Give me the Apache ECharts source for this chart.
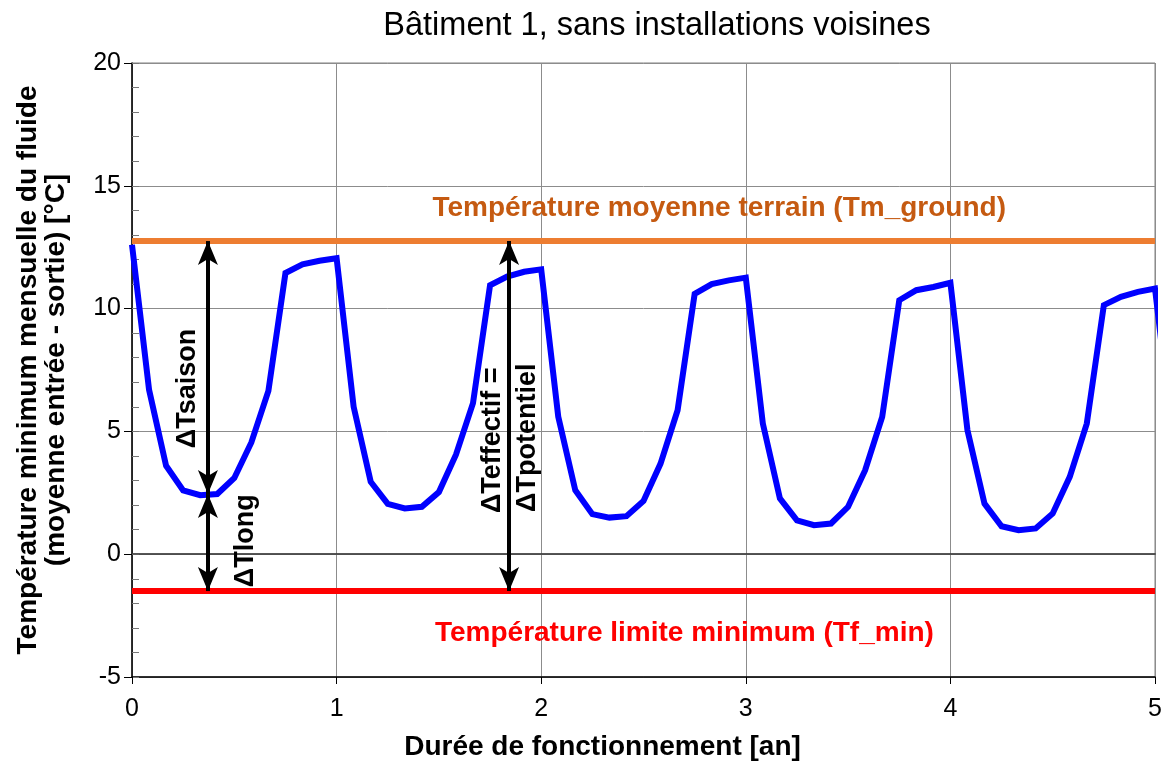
<!DOCTYPE html>
<html><head><meta charset="utf-8">
<script src="https://cdn.jsdelivr.net/npm/echarts@6/dist/echarts.min.js"></script>
<style>html,body{margin:0;padding:0;background:#fff}#c{width:1165px;height:767px}</style>
</head><body><div id="c"></div>
<script>
const titleText = 'Bâtiment 1, sans installations voisines';
const xName = 'Durée de fonctionnement [an]';
const yName = 'Température minimum mensuelle du fluide\n(moyenne entrée - sortie) [°C]';
const xTicks = [0, 1, 2, 3, 4, 5];
const yTicks = [-5, 0, 5, 10, 15, 20];
// monthly minimum fluide temperature, one value per month (0..61)
const fluidTemp = [
  12.6, 6.7, 3.6, 2.6, 2.4, 2.45, 3.1, 4.55, 6.65, 11.45, 11.8, 11.95,
  12.05, 6.0, 2.95, 2.05, 1.86, 1.93, 2.53, 4.05, 6.15, 10.95, 11.3, 11.5,
  11.6, 5.6, 2.6, 1.63, 1.49, 1.55, 2.17, 3.69, 5.86, 10.6, 11.0, 11.15,
  11.26, 5.32, 2.27, 1.38, 1.18, 1.25, 1.93, 3.42, 5.59, 10.34, 10.75, 10.88,
  11.05, 5.05, 2.06, 1.14, 0.98, 1.05, 1.66, 3.15, 5.32, 10.14, 10.48, 10.68,
  10.82, 4.9
];
const monthsPerYear = 12;
const tmGround = 12.75;
const tfMin = -1.5;
const seasonMin = 2.45;
const arrowSaisonX = 0.371;
const arrowEffX = 1.843;
const txtGround = 'Température moyenne terrain (Tm_ground)';
const txtMin = 'Température limite minimum (Tf_min)';
const txtSaison = 'ΔTsaison';
const txtLong = 'ΔTlong';
const txtEff = 'ΔTeffectif =';
const txtPot = 'ΔTpotentiel';

const FONT = '"Liberation Sans", Arial, sans-serif';
const xMin = xTicks[0], xMax = xTicks[xTicks.length - 1];
const yMin = yTicks[0], yMax = yTicks[yTicks.length - 1];

const curve = fluidTemp.map((v, i) => [i / monthsPerYear, v]);

function textPoint(x, y, text, color, rotate, size) {
  return {
    value: [x, y],
    label: {
      show: true, position: 'inside', formatter: text, rotate: rotate || 0,
      color: color, fontFamily: FONT, fontWeight: 'bold', fontSize: size || 28, opacity: 1
    }
  };
}

const arrowStyle = { color: '#000', width: 4, type: 'solid' };

const chart = echarts.init(document.getElementById('c'), null, { renderer: 'canvas' });
chart.setOption({
  animation: false,
  backgroundColor: '#fff',
  title: {
    text: titleText, left: 652, top: 5, textAlign: 'center',
    textStyle: { fontFamily: FONT, fontWeight: 'normal', fontSize: 32.5, color: '#000' }
  },
  grid: { left: 132, right: 10, top: 63, bottom: 90, show: true, borderColor: '#808080', borderWidth: 1 },
  xAxis: [{
    type: 'value', min: xMin, max: xMax, interval: 1,
    name: xName, nameLocation: 'middle', nameGap: 56,
    nameTextStyle: { fontFamily: FONT, fontWeight: 'bold', fontSize: 28, color: '#000', padding: [0, 82, 0, 0] },
    axisLine: { show: true, onZero: false, lineStyle: { color: '#000', width: 1.5 } },
    axisTick: { show: true, length: 7, lineStyle: { color: '#000' } },
    axisLabel: { fontFamily: FONT, fontSize: 25, color: '#000', margin: 20 },
    splitLine: { show: true, lineStyle: { color: '#8c8c8c', width: 1 } }
  }, {
    type: 'value', min: xMin, max: xMax, position: 'top',
    axisLine: { show: true, lineStyle: { color: '#222', width: 1.5 } },
    axisTick: { show: false }, axisLabel: { show: false }, splitLine: { show: false }
  }],
  yAxis: [{
    type: 'value', min: yMin, max: yMax, interval: 5,
    name: yName, nameLocation: 'middle', nameGap: 62, nameRotate: 90,
    nameTextStyle: { fontFamily: FONT, fontWeight: 'bold', fontSize: 28, color: '#000', lineHeight: 28 },
    axisLine: { show: true, onZero: false, lineStyle: { color: '#000', width: 1.5 } },
    axisTick: { show: true, length: 8, lineStyle: { color: '#000' } },
    axisLabel: { fontFamily: FONT, fontSize: 25, color: '#000', margin: 11 },
    splitLine: { show: true, lineStyle: { color: '#8c8c8c', width: 1 } }
  }, {
    type: 'value', min: yMin, max: yMax, interval: 1, position: 'left',
    axisLine: { show: false },
    axisTick: { show: true, inside: true, length: 7, lineStyle: { color: '#777' } },
    axisLabel: { show: false }, splitLine: { show: false }
  }],
  series: [
    {
      type: 'line', data: [[xMin, 0], [xMax, 0]], symbol: 'none', silent: true, z: 1,
      lineStyle: { color: '#555', width: 1.2 }
    },
    {
      type: 'line', data: [[xMin, tmGround], [xMax, tmGround]], symbol: 'none', z: 2,
      lineStyle: { color: '#ED7D31', width: 6 }
    },
    {
      type: 'line', data: [[xMin, tfMin], [xMax, tfMin]], symbol: 'none', z: 2,
      lineStyle: { color: '#FF0000', width: 6 }
    },
    {
      type: 'line', data: curve, symbol: 'none', z: 3, clip: true,
      lineStyle: { color: '#0000FF', width: 6, join: 'miter' }
    },
    {
      type: 'line', data: [], z: 4,
      markLine: {
        silent: true, symbol: ['arrow', 'arrow'], symbolSize: [15, 24],
        label: { show: false }, lineStyle: arrowStyle,
        data: [
          [{ coord: [arrowSaisonX, tmGround] }, { coord: [arrowSaisonX, seasonMin] }],
          [{ coord: [arrowSaisonX, seasonMin] }, { coord: [arrowSaisonX, tfMin] }],
          [{ coord: [arrowEffX, tmGround] }, { coord: [arrowEffX, tfMin] }]
        ]
      }
    },
    {
      type: 'scatter', symbolSize: 0, z: 5, silent: true,
      itemStyle: { opacity: 1 },
      data: [
        textPoint(2.87, 14.1, txtGround, '#C55A11', 0, 28),
        textPoint(2.70, -3.22, txtMin, '#FF0000', 0, 28),
        textPoint(0.273, 6.75, txtSaison, '#000', 90, 27),
        textPoint(0.557, 0.55, txtLong, '#000', 90, 27),
        textPoint(1.764, 4.64, txtEff, '#000', 90, 27),
        textPoint(1.931, 4.74, txtPot, '#000', 90, 27)
      ]
    }
  ]
});
</script></body></html>
